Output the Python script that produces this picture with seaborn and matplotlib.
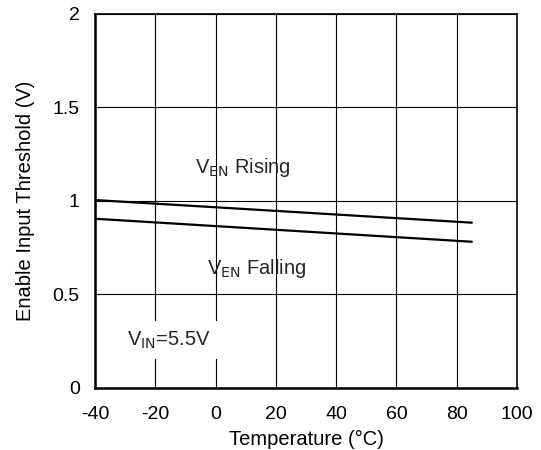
import matplotlib
matplotlib.use("Agg")
import matplotlib.pyplot as plt
import seaborn as sns
import pandas as pd

temps = [-40, 85]
rising = [1.005, 0.884]
falling = [0.905, 0.782]
xticks = [-40, -20, 0, 20, 40, 60, 80, 100]
yticks = [0, 0.5, 1, 1.5, 2]
ytick_labels = ["0", "0.5", "1", "1.5", "2"]

df = pd.DataFrame({
    "T": temps + temps,
    "V": rising + falling,
    "s": ["Rising"] * len(temps) + ["Falling"] * len(temps),
})

sns.set_theme(style="white")
plt.rcParams["font.family"] = ["Liberation Sans", "DejaVu Sans"]

fig = plt.figure(figsize=(5.41, 4.5), dpi=100)
ax = fig.add_axes([0.1756, 0.1378, 0.78, 0.8312])

sns.lineplot(data=df, x="T", y="V", units="s", estimator=None, color="black",
             linewidth=1.6, ax=ax, legend=False)

ax.set_xlim(-40, 100)
ax.set_ylim(0, 2)
ax.set_xticks(xticks)
ax.set_xticklabels([str(t) for t in xticks])
ax.set_yticks(yticks)
ax.set_yticklabels(ytick_labels)
ax.grid(True, color="black", linewidth=0.8)
ax.set_axisbelow(True)
for sp in ax.spines.values():
    sp.set_color("black")
    sp.set_linewidth(1.2)
ax.spines["left"].set_linewidth(1.8)
ax.spines["bottom"].set_linewidth(1.8)
ax.tick_params(axis="both", length=0, labelsize=14, colors="black")
ax.tick_params(axis="x", pad=13)
ax.tick_params(axis="y", pad=11)
ax.set_xlabel("Temperature (°C)", fontsize=14.5, color="black", labelpad=5)
ax.set_ylabel("Enable Input Threshold (V)", fontsize=14.5, color="black", labelpad=13)

ax.text(9, 1.18, r"V$_{\mathrm{EN}}$ Rising", fontsize=14.5, ha="center", va="center")
ax.text(13.5, 0.64, r"V$_{\mathrm{EN}}$ Falling", fontsize=14.5, ha="center", va="center")
ax.text(-29.5, 0.255, r"V$_{\mathrm{IN}}$=5.5V", fontsize=14.5, ha="left", va="center",
        bbox=dict(facecolor="white", edgecolor="none", pad=6))

fig.savefig("out.png", dpi=100)
